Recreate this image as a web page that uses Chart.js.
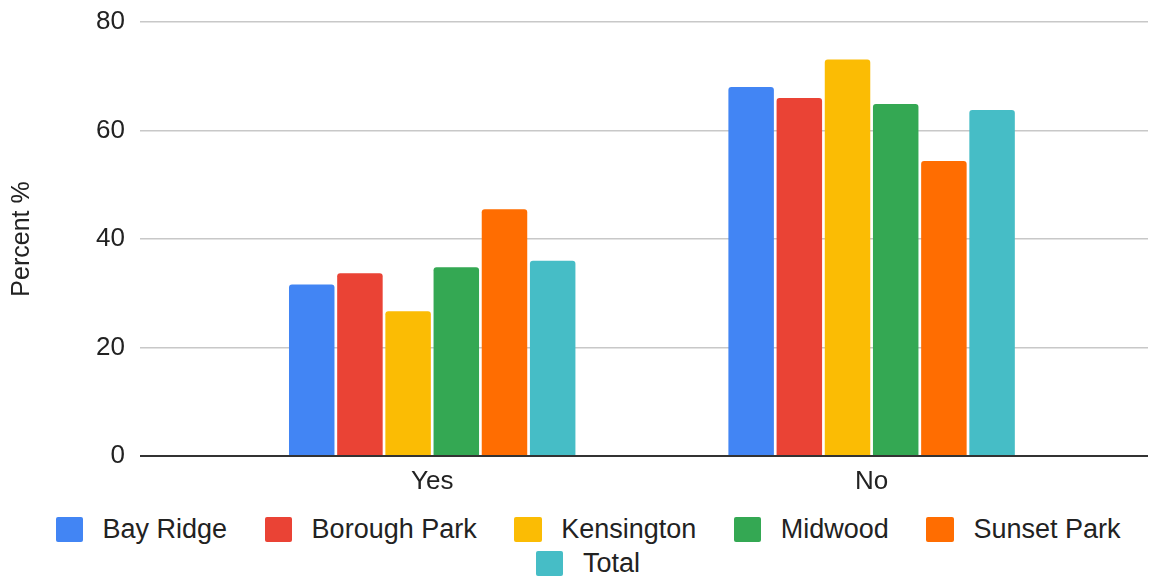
<!DOCTYPE html>
<html>
<head>
<meta charset="utf-8">
<script src="https://cdn.jsdelivr.net/npm/chart.js@4.4.1/dist/chart.umd.min.js"></script>
<style>
  html, body { margin: 0; padding: 0; background: #ffffff; }
  #wrap { position: relative; width: 1171px; height: 577px; overflow: hidden; background: #fff; }
  #chartBox { position: absolute; left: 0; top: 0; width: 1171px; height: 505px; }
  #legend {
    position: absolute; left: 5px; top: 512px; width: 1166px;
    display: flex; flex-wrap: wrap; justify-content: center;
    column-gap: 37.5px; row-gap: 0;
    font-family: 'Liberation Sans', Arial, sans-serif; font-size: 27px; color: #222;
  }
  .item { display: flex; align-items: center; height: 34.5px; white-space: nowrap; }
  .box { width: 27.5px; height: 25px; border-radius: 2px; margin-right: 19.5px; }
</style>
</head>
<body>
<div id="wrap">
  <div id="chartBox"><canvas id="c" width="1171" height="505"></canvas></div>
  <div id="legend"></div>
</div>
<script>
const categories = ['Yes', 'No'];
const seriesNames = ['Bay Ridge', 'Borough Park', 'Kensington', 'Midwood', 'Sunset Park', 'Total'];
const bayRidge    = [31.6, 68.0];
const boroughPark = [33.7, 66.0];
const kensington  = [26.7, 73.1];
const midwood     = [34.8, 64.9];
const sunsetPark  = [45.5, 54.4];
const total       = [36.0, 63.8];
const yTicks = [0, 20, 40, 60, 80];
const seriesColors = ['#4285F4', '#EA4335', '#FBBC04', '#34A853', '#FF6D01', '#46BDC6'];

const FONT = "'Liberation Sans', Arial, sans-serif";
const allSeries = [bayRidge, boroughPark, kensington, midwood, sunsetPark, total];

const datasets = allSeries.map((vals, s) => ({
  label: seriesNames[s],
  data: categories.map((c, i) => ({ x: i, y: vals[i] })),
  backgroundColor: seriesColors[s],
  borderWidth: 0,
  borderRadius: 3,
  categoryPercentage: 0.658,
  barPercentage: 0.944
}));

const chart = new Chart(document.getElementById('c'), {
  type: 'bar',
  data: { datasets },
  options: {
    responsive: false,
    devicePixelRatio: 1,
    animation: false,
    layout: { padding: { top: 22, right: 23, left: 0, bottom: 0 } },
    plugins: { legend: { display: false }, tooltip: { enabled: false } },
    scales: {
      x: {
        type: 'linear',
        min: -0.665,
        max: 1.629,
        offset: false,
        grid: { display: false, offset: false },
        border: { display: false },
        afterBuildTicks: (s) => { s.ticks = categories.map((c, i) => ({ value: i })); },
        afterFit: (s) => { s.height = 49; s.paddingLeft = 0; s.paddingRight = 0; },
        ticks: {
          autoSkip: false,
          maxRotation: 0,
          padding: 2,
          color: '#222',
          font: { family: FONT, size: 26 },
          callback: (v) => (categories[v] !== undefined ? categories[v] : '')
        }
      },
      y: {
        min: yTicks[0],
        max: yTicks[yTicks.length - 1],
        afterBuildTicks: (s) => { s.ticks = yTicks.map(v => ({ value: v })); },
        afterFit: (s) => { s.width = 140; s.paddingTop = 0; s.paddingBottom = 0; },
        border: { display: false },
        grid: {
          drawTicks: false,
          color: (ctx) => (ctx.tick && ctx.tick.value === 0 ? '#333333' : '#c8c8c8'),
          lineWidth: (ctx) => (ctx.tick && ctx.tick.value === 0 ? 2 : 1.5)
        },
        ticks: {
          padding: 15,
          color: '#222',
          font: { family: FONT, size: 26 }
        },
        title: {
          display: true,
          text: 'Percent %',
          color: '#222',
          font: { family: FONT, size: 25 },
          padding: { top: 7, bottom: 0 }
        }
      }
    }
  }
});

const legend = document.getElementById('legend');
chart.data.datasets.forEach(ds => {
  const item = document.createElement('div');
  item.className = 'item';
  const box = document.createElement('span');
  box.className = 'box';
  box.style.background = ds.backgroundColor;
  const txt = document.createElement('span');
  txt.textContent = ds.label;
  item.appendChild(box);
  item.appendChild(txt);
  legend.appendChild(item);
});
</script>
</body>
</html>
